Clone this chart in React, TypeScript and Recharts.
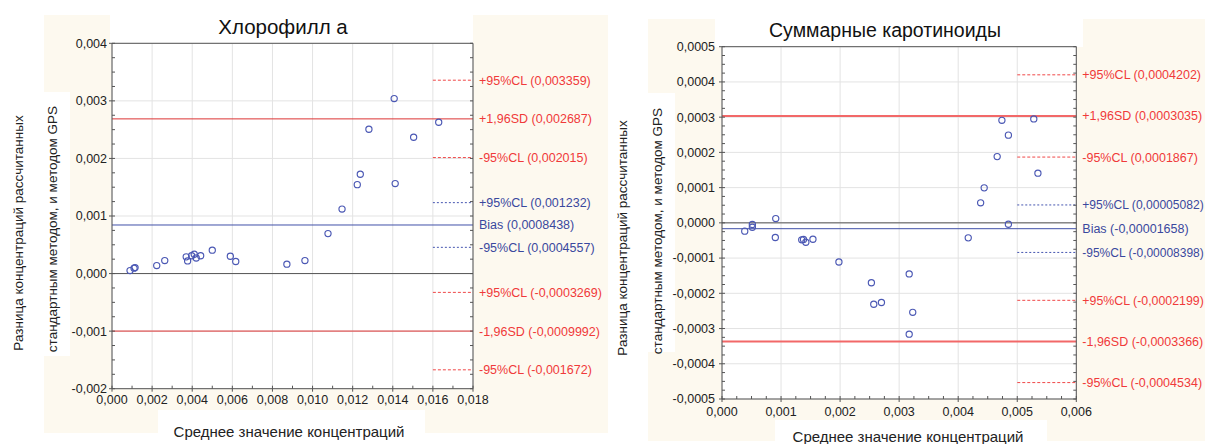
import React from 'react';
import { ScatterChart, Scatter, XAxis, YAxis, CartesianGrid, ReferenceLine } from 'recharts';

const FONT = '"Liberation Sans", Arial, Helvetica, sans-serif';

// ---------- Chart 1: Хлорофилл а ----------
const chlX = [0.0009, 0.0011, 0.00115, 0.00223, 0.00263, 0.0037, 0.00377, 0.00397, 0.0041, 0.0042, 0.00442, 0.005, 0.0059, 0.00617, 0.00872, 0.00962, 0.01077, 0.01147, 0.01223, 0.01238, 0.01281, 0.01407, 0.01412, 0.01504, 0.01629];
const chlY = [0.000052, 0.000094, 0.000104, 0.000139, 0.000226, 0.00029, 0.00022, 0.00031, 0.000336, 0.00027, 0.00031, 0.000406, 0.0003, 0.00021, 0.000163, 0.000226, 0.000694, 0.00112, 0.001545, 0.001725, 0.002507, 0.00304, 0.001563, 0.002368, 0.002628];
const chlXTicks = [0, 0.002, 0.004, 0.006, 0.008, 0.01, 0.012, 0.014, 0.016, 0.018];
const chlYTicks = [-0.002, -0.001, 0, 0.001, 0.002, 0.003, 0.004];
const chlRefValues = [0.003359, 0.002687, 0.002015, 0.001232, 0.0008438, 0.0004557, -0.0003269, -0.0009992, -0.001672];
const chlRefLabels = ['+95%CL (0,003359)', '+1,96SD (0,002687)', '-95%CL (0,002015)', '+95%CL (0,001232)', 'Bias (0,0008438)', '-95%CL (0,0004557)', '+95%CL (-0,0003269)', '-1,96SD (-0,0009992)', '-95%CL (-0,001672)'];

// ---------- Chart 2: Суммарные каротиноиды ----------
const carX = [0.000385, 0.000514, 0.000514, 0.00091, 0.000903, 0.00135, 0.00138, 0.00142, 0.00154, 0.00198, 0.00253, 0.00257, 0.0027, 0.00317, 0.00323, 0.00317, 0.00417, 0.00438, 0.00444, 0.00466, 0.00474, 0.00485, 0.00485, 0.00528, 0.00535];
const carY = [-0.0000235, -0.0000048, -0.0000125, 0.0000122, -0.0000417, -0.0000483, -0.0000474, -0.000055, -0.0000465, -0.000111, -0.00017, -0.000231, -0.000226, -0.000145, -0.000254, -0.000316, -0.0000426, 0.0000568, 0.0000993, 0.000188, 0.000291, 0.000249, -0.000004, 0.000295, 0.000141];
const carXTicks = [0, 0.001, 0.002, 0.003, 0.004, 0.005, 0.006];
const carYTicks = [-0.0005, -0.0004, -0.0003, -0.0002, -0.0001, 0, 0.0001, 0.0002, 0.0003, 0.0004, 0.0005];
const carRefValues = [0.0004202, 0.0003035, 0.0001867, 0.00005082, -0.00001658, -0.00008398, -0.0002199, -0.0003366, -0.0004534];
const carRefLabels = ['+95%CL (0,0004202)', '+1,96SD (0,0003035)', '-95%CL (0,0001867)', '+95%CL (0,00005082)', 'Bias (-0,00001658)', '-95%CL (-0,00008398)', '+95%CL (-0,0002199)', '-1,96SD (-0,0003366)', '-95%CL (-0,0004534)'];

// kind of each reference line (same order in both charts)
const refKinds = ['redCI', 'redSD', 'redCI', 'blueCI', 'bias', 'blueCI', 'redCI', 'redSD', 'redCI'];

const RED_TEXT = '#f03a3a';
const BLUE_TEXT = '#3a489e';

// approximate Liberation Sans advance widths (em) to keep long labels inside the page
const CHAR_W: Record<string, number> = {
  '0': 0.556, '1': 0.556, '2': 0.556, '3': 0.556, '4': 0.556, '5': 0.556, '6': 0.556, '7': 0.556, '8': 0.556, '9': 0.556,
  ',': 0.278, ' ': 0.278, '(': 0.333, ')': 0.333, '-': 0.333, '+': 0.584, '%': 0.889,
  C: 0.722, L: 0.556, S: 0.667, D: 0.722, B: 0.667, i: 0.222, a: 0.556, s: 0.5,
};
const textEm = (s: string) => s.split('').reduce((acc, c) => acc + (CHAR_W[c] ?? 0.6), 0);

const fmt = (v: number, dec: number) => {
  const s = (Math.abs(v) < 1e-12 ? 0 : v).toFixed(dec);
  return s.replace('.', ',');
};

const isMajor = (v: number, step: number) => Math.abs(v / step - Math.round(v / step)) < 1e-6;

const minorTicks = (ticks: number[], div: number) => {
  const out: number[] = [];
  for (let i = 0; i < ticks.length - 1; i++) {
    const a = ticks[i];
    const b = ticks[i + 1];
    for (let k = 0; k < div; k++) out.push(Number((a + ((b - a) * k) / div).toPrecision(10)));
  }
  out.push(ticks[ticks.length - 1]);
  return out;
};

const Dot = (props: any) => {
  const { cx, cy } = props;
  if (cx == null || cy == null) return null;
  return <circle cx={cx} cy={cy} r={3.1} fill="none" stroke="#4b58b4" strokeWidth={1.15} />;
};

type ChartProps = {
  xs: number[];
  ys: number[];
  xTicks: number[];
  yTicks: number[];
  refValues: number[];
  refLabels: string[];
  yDec: number;
  width: number;
  height: number;
  margin: { top: number; right: number; bottom: number; left: number };
  sdStroke: string;
  sdWidth: number;
  xLabelGap: number;
  yLabelGap: number;
  labelRoom: number;
};

const BlandAltman = (p: ChartProps) => {
  const data = p.xs.map((x, i) => ({ x, y: p.ys[i] }));
  const xStep = p.xTicks[1] - p.xTicks[0];
  const yStep = p.yTicks[1] - p.yTicks[0];
  const xMin = p.xTicks[0];
  const xMax = p.xTicks[p.xTicks.length - 1];
  const yMin = p.yTicks[0];
  const yMax = p.yTicks[p.yTicks.length - 1];
  const ciStart = p.xTicks[p.xTicks.length - 2];
  const yMinor = minorTicks(p.yTicks, 4);
  const xMinor = minorTicks(p.xTicks, xStep > 0.0015 ? 2 : 4);

  const leftTick = (t: any) => {
    const { x, y, payload } = t;
    const v = payload.value;
    const major = isMajor(v, yStep);
    return (
      <g>
        <line x1={major ? x - 3 : x} x2={x + 3} y1={y} y2={y} stroke="#555" strokeWidth={1} />
        {major && (
          <text x={x - p.yLabelGap} y={y} dy="0.35em" textAnchor="end" fontSize={12.5} fill="#222" fontFamily={FONT}>
            {fmt(v, p.yDec)}
          </text>
        )}
      </g>
    );
  };
  const bottomTick = (t: any) => {
    const { x, y, payload } = t;
    const v = payload.value;
    const major = isMajor(v, xStep);
    return (
      <g>
        <line x1={x} x2={x} y1={major ? y + 3 : y} y2={y - 3} stroke="#555" strokeWidth={1} />
        {major && (
          <text x={x} y={y + p.xLabelGap} dy="0.71em" textAnchor="middle" fontSize={12.5} fill="#222" fontFamily={FONT}>
            {fmt(v, 3)}
          </text>
        )}
      </g>
    );
  };
  const topTick = (t: any) => {
    const { x, y } = t;
    return <line x1={x} x2={x} y1={y} y2={y + 3} stroke="#555" strokeWidth={1} />;
  };
  const rightTick = (t: any) => {
    const { x, y } = t;
    return <line x1={x} x2={x - 3} y1={y} y2={y} stroke="#555" strokeWidth={1} />;
  };

  return (
    <ScatterChart width={p.width} height={p.height} margin={p.margin} style={{ fontFamily: FONT }}>
      <CartesianGrid stroke="#e3e3e3" horizontalValues={p.yTicks} verticalValues={p.xTicks} />
      <XAxis
        dataKey="x"
        type="number"
        domain={[xMin, xMax]}
        allowDataOverflow
        ticks={xMinor}
        interval={0}
        height={30}
        tickSize={0}
        tickMargin={0}
        tickLine={false}
        axisLine={{ stroke: '#555' }}
        tick={bottomTick}
      />
      <XAxis
        xAxisId="top"
        orientation="top"
        type="number"
        domain={[xMin, xMax]}
        allowDataOverflow
        ticks={xMinor}
        interval={0}
        height={20}
        tickSize={0}
        tickMargin={0}
        tickLine={false}
        axisLine={{ stroke: '#555' }}
        tick={topTick}
      />
      <YAxis
        dataKey="y"
        type="number"
        domain={[yMin, yMax]}
        allowDataOverflow
        ticks={yMinor}
        interval={0}
        width={60}
        tickSize={0}
        tickMargin={0}
        tickLine={false}
        axisLine={{ stroke: '#555' }}
        tick={leftTick}
      />
      <YAxis
        yAxisId="right"
        orientation="right"
        type="number"
        domain={[yMin, yMax]}
        allowDataOverflow
        ticks={yMinor}
        interval={0}
        width={30}
        tickSize={0}
        tickMargin={0}
        tickLine={false}
        axisLine={{ stroke: '#555' }}
        tick={rightTick}
      />
      <ReferenceLine y={0} stroke="#555" strokeWidth={1} />
      {p.refValues.map((v, i) => {
        const kind = refKinds[i];
        const isRed = kind === 'redCI' || kind === 'redSD';
        const text = p.refLabels[i];
        // shrink only the labels that would otherwise run past the page edge
        const size = Math.min(12.5, p.labelRoom / textEm(text));
        const label = {
          value: text,
          position: 'right' as const,
          offset: 6,
          fill: isRed ? RED_TEXT : BLUE_TEXT,
          fontSize: size,
        };
        if (kind === 'redSD' || kind === 'bias') {
          return (
            <ReferenceLine
              key={i}
              y={v}
              stroke={kind === 'bias' ? '#4150a8' : p.sdStroke}
              strokeWidth={kind === 'bias' ? 1 : p.sdWidth}
              label={label}
            />
          );
        }
        return (
          <ReferenceLine
            key={i}
            segment={[{ x: ciStart, y: v }, { x: xMax, y: v }]}
            stroke={isRed ? '#f04848' : '#4656b0'}
            strokeWidth={1}
            strokeDasharray={isRed ? '3 2' : '2 2'}
            label={label}
          />
        );
      })}
      <Scatter data={data} dataKey="y" isAnimationActive={false} shape={Dot} />
    </ScatterChart>
  );
};

const CREAM = '#fdf9ef';

export default function App() {
  return (
    <div style={{ position: 'absolute', left: 0, top: 0, width: 1205, height: 444, background: '#fff', overflow: 'hidden', fontFamily: FONT }}>
      {/* background panels */}
      <svg width={1205} height={444} style={{ position: 'absolute', left: 0, top: 0 }}>
        <rect x={44} y={15} width={564} height={418} fill={CREAM} />
        <rect x={110} y={15} width={363} height={28} fill="#fff" />
        <rect x={44} y={92} width={26} height={264} fill="#fff" />
        <rect x={158} y={410} width={267} height={23} fill="#fff" />
        <rect x={112} y={43} width={361} height={346} fill="#fff" />
        <rect x={648} y={19} width={557} height={422} fill={CREAM} />
        <rect x={715} y={19} width={368} height={28} fill="#fff" />
        <rect x={648} y={93} width={27} height={259} fill="#fff" />
        <rect x={775} y={420} width={272} height={21} fill="#fff" />
        <rect x={722} y={46} width={354} height={353} fill="#fff" />
      </svg>
      <div style={{ position: 'absolute', left: 0, top: 0 }}>
        <BlandAltman
          xs={chlX}
          ys={chlY}
          xTicks={chlXTicks}
          yTicks={chlYTicks}
          refValues={chlRefValues}
          refLabels={chlRefLabels}
          yDec={3}
          width={608}
          height={444}
          margin={{ top: 23.3, right: 105, bottom: 25.3, left: 52 }}
          sdStroke="#dc3434"
          sdWidth={1}
          xLabelGap={6.5}
          yLabelGap={5}
          labelRoom={200}
        />
      </div>
      <div style={{ position: 'absolute', left: 608, top: 0 }}>
        <BlandAltman
          xs={carX}
          ys={carY}
          xTicks={carXTicks}
          yTicks={carYTicks}
          refValues={carRefValues}
          refLabels={carRefLabels}
          yDec={4}
          width={597}
          height={444}
          margin={{ top: 26.7, right: 98.7, bottom: 15, left: 54 }}
          sdStroke="#f26868"
          sdWidth={2}
          xLabelGap={8.5}
          yLabelGap={7}
          labelRoom={122}
        />
      </div>
      {/* titles and axis titles */}
      <svg width={1205} height={444} style={{ position: 'absolute', left: 0, top: 0, pointerEvents: 'none' }} fontFamily={FONT}>
        <text x={283} y={34.3} textAnchor="middle" fontSize={20.5} fill="#111">Хлорофилл а</text>
        <text x={885} y={37.3} textAnchor="middle" fontSize={19.5} fill="#111">Суммарные каротиноиды</text>
        <text transform="translate(18,233) rotate(-90)" textAnchor="middle" dy="0.35em" fontSize={13.5} fill="#222">Разница концентраций рассчитанных</text>
        <text transform="translate(52,229) rotate(-90)" textAnchor="middle" dy="0.35em" fontSize={13.5} fill="#222">стандартным методом, и методом GPS</text>
        <text transform="translate(622,238) rotate(-90)" textAnchor="middle" dy="0.35em" fontSize={13.5} fill="#222">Разница концентраций рассчитанных</text>
        <text transform="translate(657,231) rotate(-90)" textAnchor="middle" dy="0.35em" fontSize={13.5} fill="#222">стандартным методом, и методом GPS</text>
        <text x={289} y={437} textAnchor="middle" fontSize={15} fill="#222">Среднее значение концентраций</text>
        <text x={908} y={442} textAnchor="middle" fontSize={15} fill="#222">Среднее значение концентраций</text>
      </svg>
    </div>
  );
}
